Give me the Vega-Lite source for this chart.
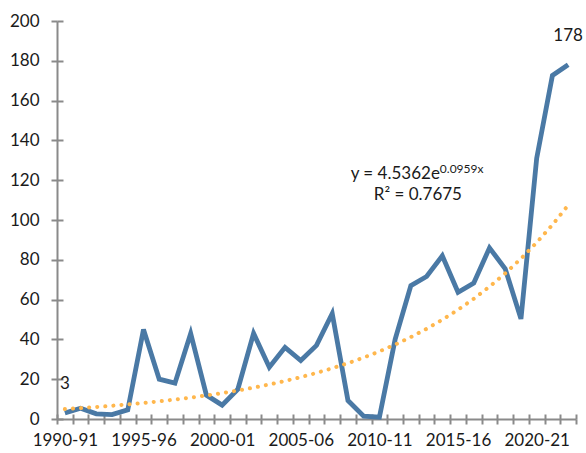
{
  "$schema": "https://vega.github.io/schema/vega-lite/v6.json",
  "autosize": "none",
  "padding": {"left": 57, "top": 21, "right": 10, "bottom": 34},
  "width": 519,
  "height": 398,
  "config": {
    "view": {"stroke": null},
    "font": "Lato",
    "text": {"font": "Lato", "color": "#1a1a1a"}
  },
  "data": {
    "values": [
      {"period": "1990-91", "value": 3, "trend": 4.99, "label": "3"},
      {"period": "1991-92", "value": 5.4, "trend": 5.5},
      {"period": "1992-93", "value": 2.6, "trend": 6.05},
      {"period": "1993-94", "value": 2.2, "trend": 6.66},
      {"period": "1994-95", "value": 4.6, "trend": 7.33},
      {"period": "1995-96", "value": 45, "trend": 8.06},
      {"period": "1996-97", "value": 20, "trend": 8.88},
      {"period": "1997-98", "value": 18, "trend": 9.77},
      {"period": "1998-99", "value": 43, "trend": 10.75},
      {"period": "1999-00", "value": 12, "trend": 11.84},
      {"period": "2000-01", "value": 7, "trend": 13.03},
      {"period": "2001-02", "value": 15, "trend": 14.34},
      {"period": "2002-03", "value": 43, "trend": 15.78},
      {"period": "2003-04", "value": 26, "trend": 17.37},
      {"period": "2004-05", "value": 36, "trend": 19.12},
      {"period": "2005-06", "value": 29.4, "trend": 21.04},
      {"period": "2006-07", "value": 37, "trend": 23.16},
      {"period": "2007-08", "value": 53, "trend": 25.49},
      {"period": "2008-09", "value": 9.3, "trend": 28.06},
      {"period": "2009-10", "value": 1.4, "trend": 30.88},
      {"period": "2010-11", "value": 0.9, "trend": 33.99},
      {"period": "2011-12", "value": 40, "trend": 37.41},
      {"period": "2012-13", "value": 67, "trend": 41.18},
      {"period": "2013-14", "value": 71.6, "trend": 45.32},
      {"period": "2014-15", "value": 82, "trend": 49.88},
      {"period": "2015-16", "value": 63.7, "trend": 54.9},
      {"period": "2016-17", "value": 68.3, "trend": 60.43},
      {"period": "2017-18", "value": 86, "trend": 66.51},
      {"period": "2018-19", "value": 75.5, "trend": 73.21},
      {"period": "2019-20", "value": 50.3, "trend": 80.57},
      {"period": "2020-21", "value": 131, "trend": 88.68},
      {"period": "2021-22", "value": 172.6, "trend": 97.61},
      {"period": "2022-23", "value": 178, "trend": 107.44, "label": "178"}
    ]
  },
  "resolve": {"axis": {"x": "independent", "y": "independent"}},
  "layer": [
    {
      "mark": {"type": "line", "color": "#4A79A5", "strokeWidth": 4.8, "strokeJoin": "miter", "strokeCap": "butt"},
      "encoding": {
        "x": {
          "field": "period", "type": "ordinal", "bandPosition": 0.5,
          "scale": {"type": "band", "paddingInner": 0, "paddingOuter": 0},
          "axis": {
            "orient": "bottom", "title": null, "tickBand": "extent",
            "domainColor": "#8a8a8a", "domainWidth": 2, "tickColor": "#8a8a8a", "tickWidth": 2, "tickSize": 5,
            "labelFont": "Lato", "labelFontSize": 17, "labelColor": "#1a1a1a", "labelAngle": 0, "labelPadding": 8,
            "labelOverlap": false,
            "labelExpr": "indexof(['1990-91','1995-96','2000-01','2005-06','2010-11','2015-16','2020-21'], datum.value) >= 0 ? datum.label : ''"
          }
        },
        "y": {
          "field": "value", "type": "quantitative",
          "scale": {"domain": [0, 200], "nice": false},
          "axis": {
            "orient": "left", "title": null, "grid": false,
            "values": [0, 20, 40, 60, 80, 100, 120, 140, 160, 180, 200],
            "domainColor": "#8a8a8a", "domainWidth": 2, "tickColor": "#8a8a8a", "tickWidth": 2, "tickSize": 6,
            "labelFont": "Lato", "labelFontSize": 17, "labelColor": "#1a1a1a", "labelPadding": 12
          }
        }
      }
    },
    {
      "mark": {"type": "line", "color": "#FFB74D", "strokeWidth": 4, "strokeCap": "round", "strokeDash": [0.1, 8]},
      "encoding": {
        "x": {
          "field": "period", "type": "ordinal", "bandPosition": 0.5,
          "axis": {
            "orient": "bottom", "title": null, "tickBand": "extent", "domain": false, "labels": false,
            "tickColor": "#8a8a8a", "tickWidth": 2, "tickSize": -5
          }
        },
        "y": {
          "field": "trend", "type": "quantitative",
          "axis": {
            "orient": "left", "title": null, "grid": false, "domain": false, "labels": false,
            "values": [0, 20, 40, 60, 80, 100, 120, 140, 160, 180, 200],
            "tickColor": "#8a8a8a", "tickWidth": 2, "tickSize": -6
          }
        }
      }
    },
    {
      "transform": [{"filter": "isValid(datum.label)"}],
      "mark": {"type": "text", "fontSize": 17, "dy": -29, "align": "center", "baseline": "middle"},
      "encoding": {
        "x": {"field": "period", "type": "ordinal", "bandPosition": 0.5, "axis": null},
        "y": {"field": "value", "type": "quantitative", "axis": null},
        "text": {"field": "label"}
      }
    },
    {
      "data": {"values": [{"period": "2012-13", "ypos": 120.7, "txt": "y = 4.5362e"}]},
      "mark": {"type": "text", "fontSize": 17, "baseline": "alphabetic", "align": "right", "dx": 29},
      "encoding": {
        "x": {"field": "period", "type": "ordinal", "bandPosition": 0.5, "axis": null},
        "y": {"field": "ypos", "type": "quantitative", "axis": null},
        "text": {"field": "txt"}
      }
    },
    {
      "data": {"values": [{"period": "2012-13", "ypos": 109.8, "txt": "R² = 0.7675"}]},
      "mark": {"type": "text", "fontSize": 17, "baseline": "alphabetic", "align": "center", "dx": 7},
      "encoding": {
        "x": {"field": "period", "type": "ordinal", "bandPosition": 0.5, "axis": null},
        "y": {"field": "ypos", "type": "quantitative", "axis": null},
        "text": {"field": "txt"}
      }
    },
    {
      "data": {"values": [{"period": "2012-13", "ypos": 123.7, "txt": "0.0959x"}]},
      "mark": {"type": "text", "fontSize": 12, "baseline": "alphabetic", "align": "left", "dx": 29},
      "encoding": {
        "x": {"field": "period", "type": "ordinal", "bandPosition": 0.5, "axis": null},
        "y": {"field": "ypos", "type": "quantitative", "axis": null},
        "text": {"field": "txt"}
      }
    }
  ]
}
